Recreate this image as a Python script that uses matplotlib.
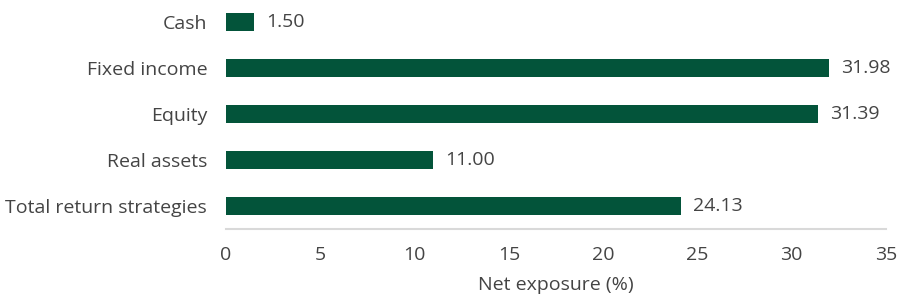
import matplotlib
matplotlib.use("Agg")
import matplotlib.pyplot as plt

categories = ["Total return strategies", "Real assets", "Equity", "Fixed income", "Cash"]
values = [24.13, 11.00, 31.39, 31.98, 1.50]
xticks = [0, 5, 10, 15, 20, 25, 30, 35]
xlabel = "Net exposure (%)"

plt.rcParams['font.family'] = ['Open Sans', 'DejaVu Sans']
text_color = "#444444"
bar_color = "#03543a"
fs = 14

fig = plt.figure(figsize=(8.99, 3.0), dpi=100)
ax = fig.add_axes([226/899, 1 - 229/300, 660/899, 229/300 + 1/300])

y = range(len(categories))
ax.barh(y, values, height=0.4, color=bar_color)
for yi, v in zip(y, values):
    ax.text(v + 0.65, yi, f"{v:.2f}", va="center", ha="left", fontsize=fs, color=text_color)

ax.set_xlim(0, 35)
ax.set_ylim(-0.5, 4.5)
ax.set_yticks(list(y))
ax.set_yticklabels(categories)
ax.set_xticks(xticks)
ax.set_xticklabels([str(t) for t in xticks])
ax.tick_params(axis="both", length=0, labelsize=fs, colors=text_color)
ax.tick_params(axis="y", pad=13.5)
ax.tick_params(axis="x", pad=12)
for s in ["top", "right", "left"]:
    ax.spines[s].set_visible(False)
ax.spines["bottom"].set_color("#d9d9d9")
ax.spines["bottom"].set_linewidth(1.5)
ax.set_xlabel(xlabel, fontsize=fs, color=text_color, labelpad=9)

fig.savefig("out.png", dpi=100)
